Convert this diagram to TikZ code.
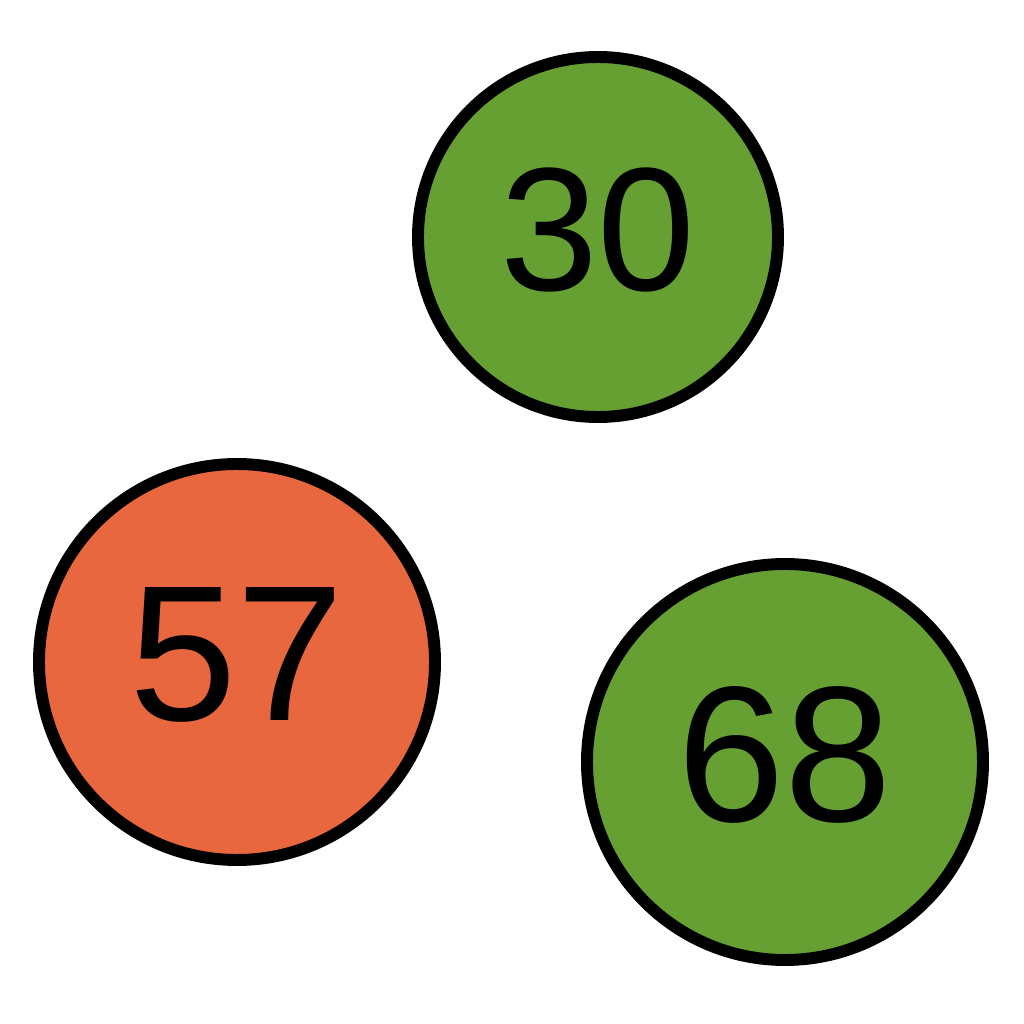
\documentclass[tikz,border=0pt]{standalone}
\usepackage{fontspec}
\setmainfont{Liberation Sans}
\usetikzlibrary{positioning}
\definecolor{leafgreen}{RGB}{103,160,50}
\definecolor{brickorange}{RGB}{232,103,62}

\begin{document}
\begin{tikzpicture}[
    ball/.style={draw, circle, line width=3.4pt, inner sep=0pt, text depth=0.15cm},
    small/.style={ball, minimum size=3.6cm, font=\fontsize{50}{50}\selectfont},
    big/.style={ball, minimum size=3.96cm, font=\fontsize{55}{55}\selectfont}]
  \useasboundingbox (0,0) rectangle (10.24,10.24);

  \node[small, fill=leafgreen] (n30) at (5.98,7.87) {30};
  \node[big, fill=brickorange] (n57) at (2.37,3.62) {57};
  \node[big, fill=leafgreen] (n68) at (7.85,2.62) {68};
\end{tikzpicture}
\end{document}
